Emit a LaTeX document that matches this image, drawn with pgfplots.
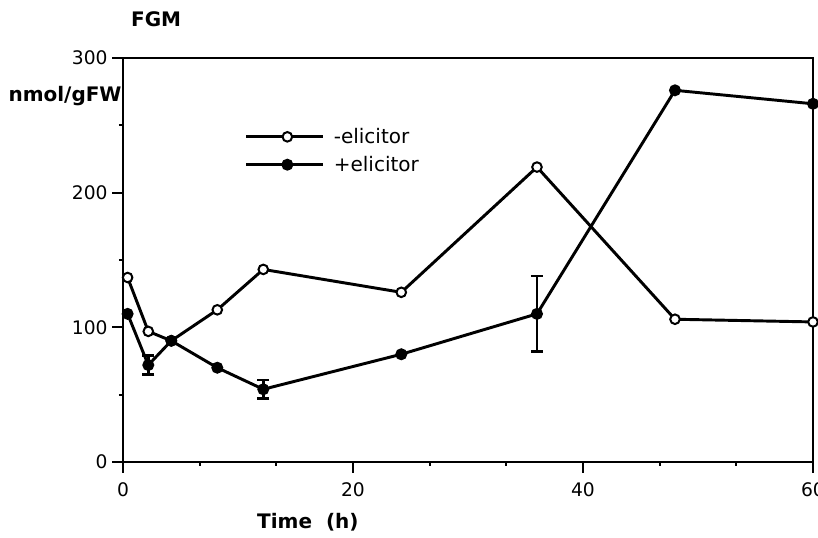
\documentclass[border=0pt]{standalone}
\usepackage{pgfplots}
\pgfplotsset{compat=1.18}
\usepackage{fontspec}
\setmainfont{DejaVu Sans}

\begin{document}
\begin{tikzpicture}
\begin{axis}[
  at={(0,0)}, anchor=south west,
  scale only axis, width=517.5pt, height=303pt,
  xmin=0, xmax=60, ymin=0, ymax=300,
  xtick={0,20,40,60}, ytick={0,100,200,300},
  minor x tick num=2, minor y tick num=1,
  xtick pos=bottom, ytick pos=left,
  tick align=outside,
  major tick length=8pt, minor tick length=3pt,
  every tick/.style={line width=1.5pt, black},
  axis line style={line width=1.7pt},
  tick label style={font=\fontsize{14}{16}\selectfont},
  /pgf/number format/assume math mode=true,
  xticklabel style={yshift=-4pt},
  clip=false,
  title={\textbf{FGM}},
  title style={at={(axis description cs:0.048,1)}, anchor=center, yshift=23pt, font=\fontsize{15}{17}\selectfont},
  ylabel={\textbf{nmol/gFW}},
  ylabel style={rotate=-90, at={(axis description cs:-0.084,0.906)}, anchor=center, font=\fontsize{15}{17}\selectfont},
  xlabel={\textbf{Time~~(h)}},
  xlabel style={at={(axis description cs:0.268,-0.149)}, anchor=center, font=\fontsize{15}{17}\selectfont},
  legend style={draw=none, fill=none, at={(rel axis cs:0.17,0.84)}, anchor=north west,
    font=\fontsize{15}{17}\selectfont, row sep=4pt},
  legend cell align=left,
  legend image code/.code={\draw[mark repeat=2,mark phase=2,#1] plot coordinates {(0pt,0pt) (31pt,0pt) (58pt,0pt)};},
]
\addplot[black, line width=2.2pt, mark=*, mark size=3.6pt,
  mark options={fill=white, line width=1.5pt}]
  coordinates {(0.4,137) (2.2,97) (4.2,90) (8.2,113) (12.2,143) (24.2,126) (36,219) (48,106) (60,104)};
\addlegendentry{~-elicitor}
\addplot[black, line width=2.2pt, mark=*, mark size=4pt,
  mark options={fill=black, line width=1pt},
  error bars/.cd, y dir=both, y explicit,
  error bar style={line width=2pt},
  error mark options={rotate=90, mark size=4.5pt, line width=2pt}]
  coordinates {(0.4,110) (2.2,72) +- (0,7) (4.2,90) (8.2,70) (12.2,54) +- (0,7) (24.2,80) (36,110) +- (0,28) (48,276) (60,266)};
\addlegendentry{~+elicitor}
\end{axis}
\pgfresetboundingbox
\path[use as bounding box] (-92.25pt,-57pt) rectangle (521.25pt,346.5pt);
\end{tikzpicture}
\end{document}
